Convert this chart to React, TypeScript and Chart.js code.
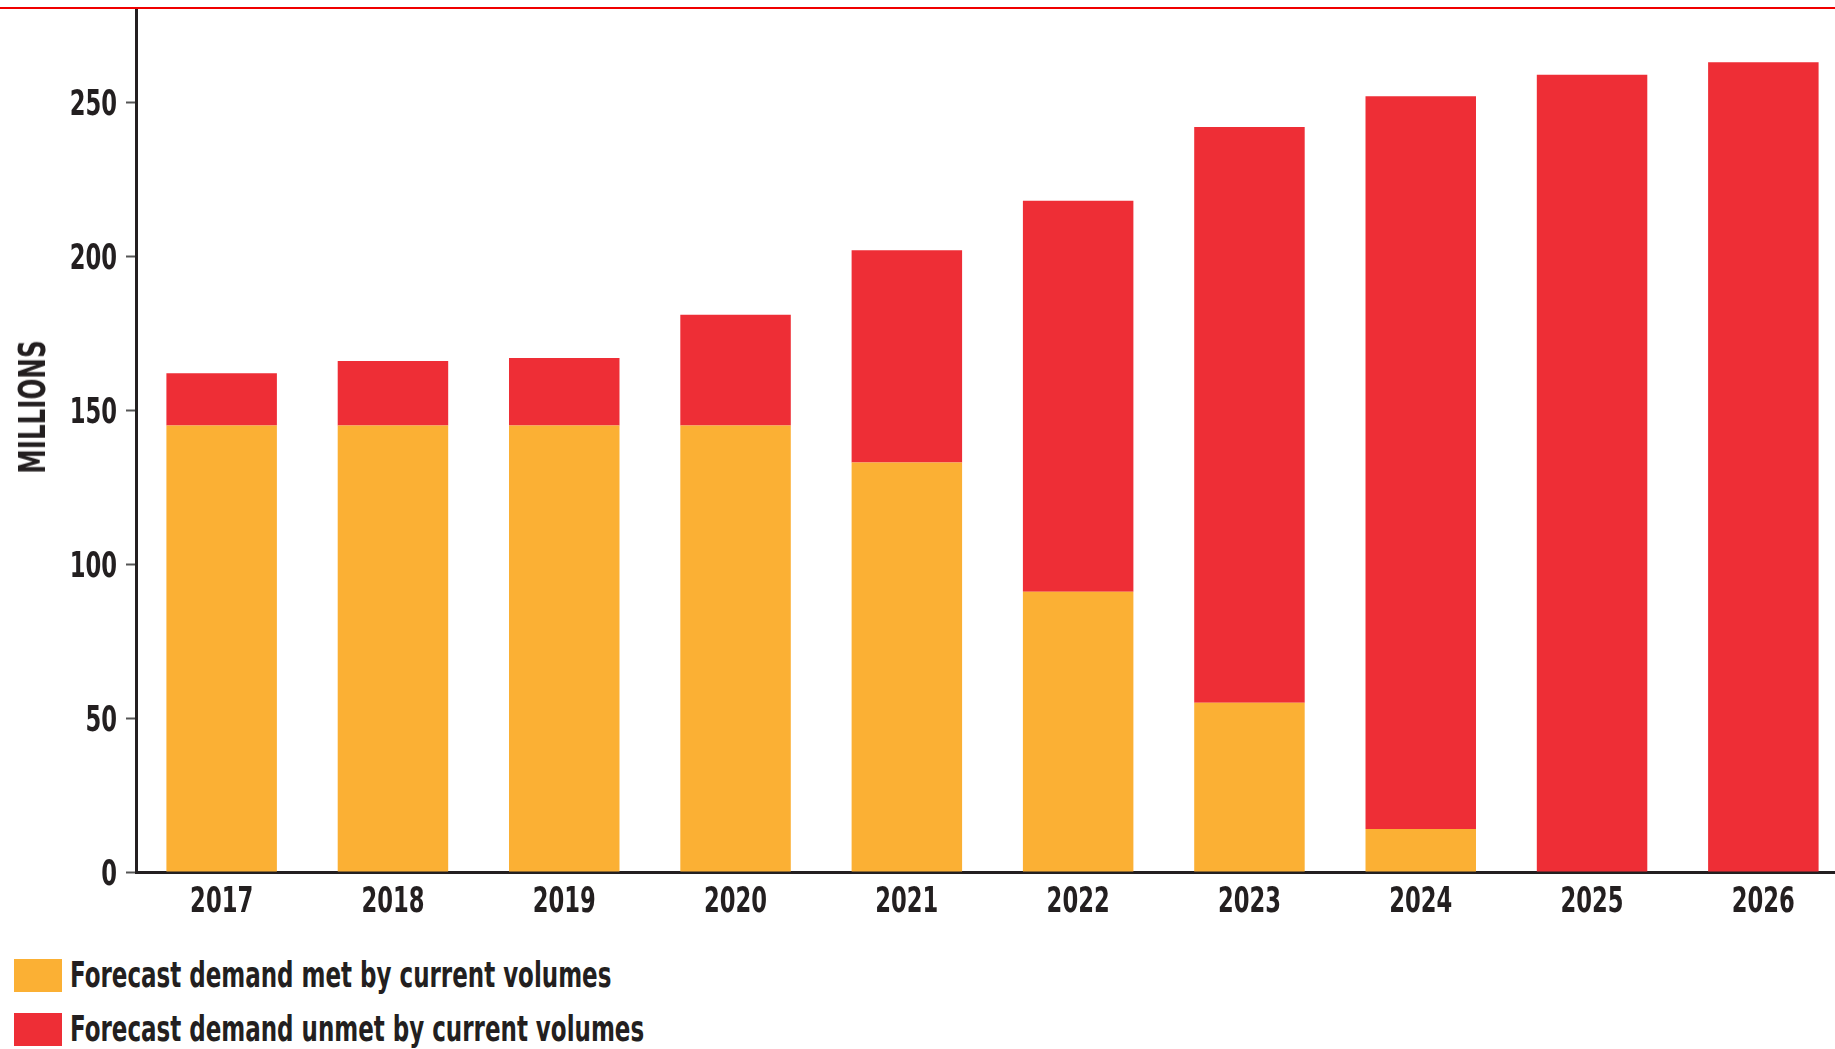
import React, { useEffect, useRef } from "react";
import { Chart, registerables } from "chart.js";

Chart.register(...registerables);

const years = ["2017", "2018", "2019", "2020", "2021", "2022", "2023", "2024", "2025", "2026"];
const metDemand = [145, 145, 145, 145, 133, 91, 55, 14, 0, 0];
const unmetDemand = [17, 21, 22, 36, 69, 127, 187, 238, 259, 263];
const yTicks = [0, 50, 100, 150, 200, 250];
const seriesLabels = ["Forecast demand met by current volumes", "Forecast demand unmet by current volumes"];
const seriesColors = ["#FBB034", "#EE2E36"];
const axisTitle = "MILLIONS";

const FONT = '"Liberation Sans Narrow", "DejaVu Sans Condensed", "Arial Narrow", sans-serif';
const INK = "#231F20";
const SX = 0.72;
const LEGEND_SX = 0.73;
const LABEL_SIZE = 35;

const condensedLabels = {
  id: "condensedLabels",
  afterDraw(chart: any) {
    const ctx = chart.ctx as CanvasRenderingContext2D;
    const xs = chart.scales.x;
    const ys = chart.scales.y;
    const cap = LABEL_SIZE * 0.729;
    ctx.save();
    ctx.fillStyle = INK;
    ctx.font = `bold ${LABEL_SIZE}px ${FONT}`;
    ctx.textBaseline = "alphabetic";
    ctx.textAlign = "right";
    ys.ticks.forEach((t: any) => {
      const py = ys.getPixelForValue(t.value);
      ctx.save();
      ctx.translate(ys.right - 19, py + cap / 2);
      ctx.scale(SX, 1);
      ctx.fillText(String(t.value), 0, 0);
      ctx.restore();
    });
    ctx.textAlign = "center";
    xs.ticks.forEach((t: any, i: number) => {
      const px = xs.getPixelForTick(i);
      ctx.save();
      ctx.translate(px, xs.top + 27 + cap / 2);
      ctx.scale(SX, 1);
      ctx.fillText(String(chart.data.labels[i]), 0, 0);
      ctx.restore();
    });
    ctx.restore();
  },
};

export default function App() {
  const ref = useRef<HTMLCanvasElement | null>(null);

  useEffect(() => {
    if (!ref.current) return;
    const chart = new Chart(ref.current, {
      type: "bar",
      data: {
        labels: years,
        datasets: [
          { label: seriesLabels[0], data: metDemand, backgroundColor: seriesColors[0], borderWidth: 0 },
          { label: seriesLabels[1], data: unmetDemand, backgroundColor: seriesColors[1], borderWidth: 0 },
        ],
      },
      plugins: [condensedLabels],
      options: {
        responsive: false,
        animation: false,
        devicePixelRatio: 1,
        layout: { padding: { left: 0, right: 0, top: 10, bottom: 0 } },
        datasets: { bar: { categoryPercentage: 1, barPercentage: 0.645 } },
        plugins: { legend: { display: false }, tooltip: { enabled: false } },
        scales: {
          x: {
            stacked: true,
            grid: { display: false, drawTicks: false },
            border: { display: true, color: INK, width: 3 },
            ticks: { display: false },
            afterFit: (s: any) => {
              s.height = 60;
              s.paddingLeft = 0;
              s.paddingRight = 0;
            },
          },
          y: {
            stacked: true,
            min: 0,
            max: 280,
            grid: { drawOnChartArea: false, drawTicks: true, tickLength: 10, tickColor: "#555", tickWidth: 2 },
            border: { display: true, color: INK, width: 3 },
            ticks: { display: false, stepSize: 50 },
            afterBuildTicks: (s: any) => {
              s.ticks = yTicks.map((v) => ({ value: v }));
            },
            afterFit: (s: any) => {
              s.width = 136;
              s.paddingTop = 0;
              s.paddingBottom = 0;
            },
          },
        },
      },
    });
    return () => chart.destroy();
  }, []);

  const legendRow = (i: number, top: number) => (
    <div
      key={i}
      style={{ position: "absolute", left: 14, top, height: 33, display: "flex", alignItems: "center" }}
    >
      <div style={{ width: 48, height: 33, background: seriesColors[i], flex: "none" }} />
      <span
        style={{
          marginLeft: 8,
          display: "inline-block",
          transform: `scaleX(${LEGEND_SX})`,
          transformOrigin: "left center",
          fontFamily: FONT,
          fontWeight: "bold",
          fontSize: 35,
          color: INK,
          lineHeight: "33px",
          whiteSpace: "nowrap",
        }}
      >
        {seriesLabels[i]}
      </span>
    </div>
  );

  return (
    <div
      style={{
        position: "fixed",
        left: 0,
        top: 0,
        width: 1835,
        height: 1049,
        overflow: "hidden",
        background: "#fff",
      }}
    >
      <div style={{ position: "absolute", left: 0, top: 7, width: 1835, height: 2, background: "#F00000" }} />
      <canvas ref={ref} width={1849} height={932} style={{ position: "absolute", left: 0, top: 0, display: "block" }} />
      <div
        style={{
          position: "absolute",
          left: 32,
          top: 407,
          transform: `translate(-50%, -50%) rotate(-90deg) scaleX(${SX})`,
          fontFamily: FONT,
          fontWeight: "bold",
          fontSize: 38,
          color: INK,
          whiteSpace: "nowrap",
          lineHeight: "38px",
        }}
      >
        {axisTitle}
      </div>
      {legendRow(0, 959)}
      {legendRow(1, 1013)}
    </div>
  );
}
